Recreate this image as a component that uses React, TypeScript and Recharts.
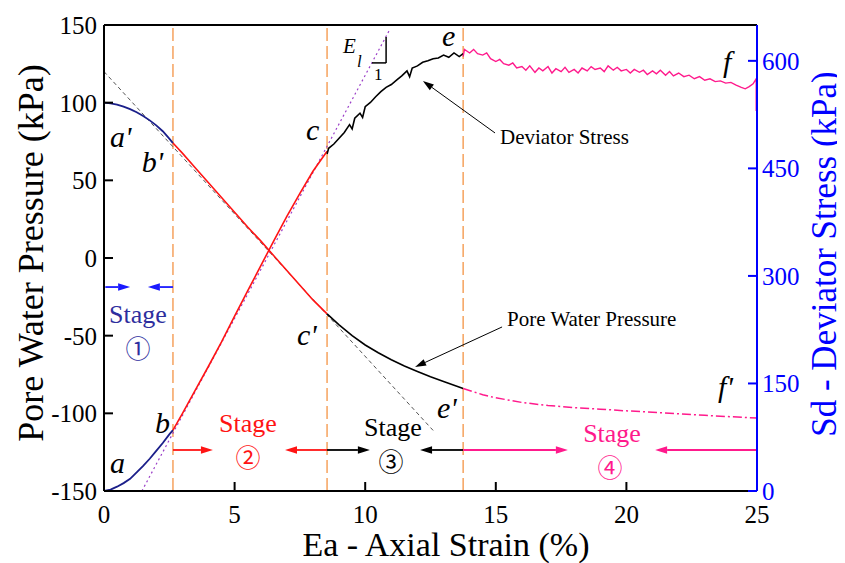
import React from 'react';
import { ComposedChart, Line, XAxis, YAxis, ReferenceLine, ReferenceDot } from 'recharts';

const SERIF = 'Liberation Serif, Times New Roman, serif';
const CIRCLE_FONT = 'Noto Sans CJK SC, DejaVu Sans, sans-serif';

const NAVY = '#1b1f8a';
const RED = '#ff1414';
const PINK = '#ff1a8c';
const BLUE = '#0000ff';
const ORANGE = '#f6a25e';

const strainTicks = [0, 5, 10, 15, 20, 25];
const pwpTicks = [-150, -100, -50, 0, 50, 100, 150];
const sdTicks = [0, 150, 300, 450, 600];

// stage boundaries (axial strain, %)
const stageBounds = [2.64, 8.54, 13.75];

// Stage 1: 0 -> b
const s1Strain = [0, 0.25, 0.5, 0.75, 1, 1.25, 1.5, 1.75, 2, 2.25, 2.5, 2.64];
const s1Pwp = [100, 99.6, 98.8, 97.5, 95.8, 93.8, 91.4, 88.6, 85.4, 81.6, 76.8, 74];
const s1Sd = [0, 2, 6, 11, 17, 26, 35, 45, 56, 67, 79, 85];

// Stage 2: b -> c
const s2Strain = [2.64, 3, 3.5, 4, 4.5, 5, 5.5, 6, 6.5, 7, 7.5, 8, 8.54];
const s2Pwp = [74, 67.5, 58, 48.5, 39, 29.5, 20, 11, 1.5, -8, -17.5, -27, -36];
const s2Sd = [85, 108, 141, 174, 208, 244, 279, 314, 349, 383, 415, 446, 474];

// Stage 3: c -> e
const s3Strain = [8.54, 9, 9.5, 10, 10.5, 11, 11.5, 12, 12.5, 13, 13.75];
const s3Pwp = [-36, -43, -50, -56, -61, -65.5, -69.5, -73, -76.5, -79.5, -84];
const s3SdStrain = [8.54, 8.6, 8.8, 9, 9.2, 9.4, 9.5, 9.6, 9.8, 9.9, 10, 10.2, 10.4, 10.6, 10.8, 11, 11.2, 11.4, 11.6, 11.7, 11.8, 12, 12.2, 12.4, 12.6, 12.8, 13, 13.2, 13.4, 13.6, 13.75];
const s3Sd = [470, 478, 484, 492, 500, 511, 505, 520, 527, 521, 536, 542, 550, 557, 563, 567, 573, 579, 586, 578, 590, 593, 598, 600, 603, 604, 608, 605, 611, 606, 610];

// Stage 4: e -> f
const s4Strain = [13.75, 14.5, 15, 16, 17, 18, 19, 20, 21, 22, 23, 24, 25];
const s4Pwp = [-84, -88, -90, -93, -95, -96.3, -97.3, -98.4, -99.3, -100.3, -101.3, -102.2, -103];
const s4SdStrain = [13.75, 13.8, 14, 14.15, 14.3, 14.5, 14.65, 14.8, 15, 15.15, 15.3, 15.5, 15.65, 15.8, 16, 16.15, 16.3, 16.5, 16.65, 16.8, 17, 17.15, 17.3, 17.5, 17.65, 17.8, 18, 18.15, 18.3, 18.5, 18.65, 18.8, 19, 19.15, 19.3, 19.5, 19.65, 19.8, 20, 20.15, 20.3, 20.5, 20.65, 20.8, 21, 21.15, 21.3, 21.5, 21.65, 21.8, 22, 22.2, 22.4, 22.6, 22.8, 23, 23.2, 23.4, 23.6, 23.8, 24, 24.2, 24.4, 24.55, 24.7, 24.85, 24.97, 24.97];
const s4Sd = [606, 616, 611, 616, 610, 608, 611, 603, 599, 602, 596, 594, 597, 590, 592, 587, 593, 584, 590, 586, 592, 583, 589, 585, 591, 584, 588, 583, 590, 586, 592, 588, 590, 585, 593, 587, 591, 586, 588, 583, 588, 584, 587, 581, 586, 582, 587, 580, 585, 579, 583, 578, 580, 575, 578, 573, 575, 571, 572, 569, 570, 566, 563, 561, 564, 568, 575, 530];

// tangent lines
const elasticStrain = [1.45, 10.96];
const elasticSd = [0, 645];
const pwpTanStrain = [0, 12.6];
const pwpTan = [120, -111];

const zip = (xs: number[], ys: number[]) => xs.map((x, i) => ({ x, y: ys[i] }));

function arrowShape(color: string, width: number, head: number, half: number) {
  return (props: any) => {
    const { x1, y1, x2, y2 } = props;
    const dx = x2 - x1;
    const dy = y2 - y1;
    const len = Math.hypot(dx, dy) || 1;
    const ux = dx / len;
    const uy = dy / len;
    const bx = x2 - ux * head;
    const by = y2 - uy * head;
    const pts = `${x2},${y2} ${bx - uy * half},${by + ux * half} ${bx + uy * half},${by - ux * half}`;
    return (
      <g>
        <line x1={x1} y1={y1} x2={bx} y2={by} stroke={color} strokeWidth={width} />
        <polygon points={pts} fill={color} />
      </g>
    );
  };
}

function textAt(label: string, size: number, color = '#000', anchor = 'start', italic = false, family = SERIF) {
  return (p: any) => (
    <text x={p.cx} y={p.cy} fontSize={size} fill={color} textAnchor={anchor} fontFamily={family} fontStyle={italic ? 'italic' : 'normal'}>
      {label}
    </text>
  );
}

const stageArrow = (color: string) => arrowShape(color, 1.8, 12, 3.8);
const pointer = arrowShape('#000', 1, 11, 3.5);

export default function App() {
  const tickStyle = { fontFamily: SERIF, fontSize: 25, fill: '#000' };
  return (
    <ComposedChart width={837} height={555} margin={{ top: 17, right: 0, bottom: 0, left: 0 }}>
      <XAxis
        type="number"
        dataKey="x"
        domain={[0, 25]}
        ticks={strainTicks}
        allowDataOverflow
        height={72}
        axisLine={{ stroke: '#000', strokeWidth: 2 }}
        tickLine={{ stroke: '#000', strokeWidth: 2 }}
        tickSize={-9}
        tickMargin={23}
        tick={tickStyle}
        label={{
          content: () => (
            <text x={438} y={548} textAnchor="middle" fontFamily={SERIF} fontSize={34} fill="#000">
              Ea - Axial Strain (%)
            </text>
          ),
        }}
      />
      <YAxis
        yAxisId="p"
        type="number"
        domain={[-150, 150]}
        ticks={pwpTicks}
        allowDataOverflow
        width={96}
        axisLine={{ stroke: '#000', strokeWidth: 2 }}
        tickLine={{ stroke: '#000', strokeWidth: 2 }}
        tickSize={-9}
        tickMargin={16}
        tick={tickStyle}
        label={{
          content: () => (
            <text x={35} y={245} textAnchor="middle" fontFamily={SERIF} fontSize={36} fill="#000" transform="rotate(-90 35 245)">
              Pore Water Pressure (kPa)
            </text>
          ),
        }}
      />
      <YAxis
        yAxisId="s"
        orientation="right"
        type="number"
        domain={[0, 650]}
        ticks={sdTicks}
        allowDataOverflow
        width={88}
        axisLine={{ stroke: BLUE, strokeWidth: 2 }}
        tickLine={{ stroke: BLUE, strokeWidth: 2 }}
        tickSize={-9}
        tickMargin={14}
        tick={{ ...tickStyle, fill: BLUE }}
        label={{
          content: () => (
            <text x={828} y={246} textAnchor="middle" fontFamily={SERIF} fontSize={35} fill={BLUE} transform="rotate(-90 828 246)">
              Sd - Deviator Stress (kPa)
            </text>
          ),
        }}
      />

      <ReferenceLine yAxisId="p" y={150} stroke="#000" strokeWidth={2} />
      {stageBounds.map((b) => (
        <ReferenceLine key={b} yAxisId="p" x={b} stroke={ORANGE} strokeWidth={1.5} strokeDasharray="13 5" />
      ))}

      <Line data={zip(pwpTanStrain, pwpTan)} yAxisId="p" dataKey="y" stroke="#555" strokeWidth={1} strokeDasharray="4 3" dot={false} isAnimationActive={false} />
      <Line data={zip(elasticStrain, elasticSd)} yAxisId="s" dataKey="y" stroke="#9b3fc8" strokeWidth={1.2} strokeDasharray="2 3" dot={false} isAnimationActive={false} />

      <Line data={zip(s1Strain, s1Pwp)} yAxisId="p" dataKey="y" stroke={NAVY} strokeWidth={1.8} dot={false} isAnimationActive={false} />
      <Line data={zip(s2Strain, s2Pwp)} yAxisId="p" dataKey="y" stroke={RED} strokeWidth={1.6} dot={false} isAnimationActive={false} />
      <Line data={zip(s3Strain, s3Pwp)} yAxisId="p" dataKey="y" stroke="#000" strokeWidth={1.6} dot={false} isAnimationActive={false} />
      <Line data={zip(s4Strain, s4Pwp)} yAxisId="p" dataKey="y" stroke={PINK} strokeWidth={1.5} strokeDasharray="9 3 2 3" dot={false} isAnimationActive={false} />

      <Line data={zip(s1Strain, s1Sd)} yAxisId="s" dataKey="y" stroke={NAVY} strokeWidth={1.8} dot={false} isAnimationActive={false} />
      <Line data={zip(s2Strain, s2Sd)} yAxisId="s" dataKey="y" stroke={RED} strokeWidth={1.6} dot={false} isAnimationActive={false} />
      <Line data={zip(s3SdStrain, s3Sd)} yAxisId="s" dataKey="y" stroke="#000" strokeWidth={1.6} dot={false} isAnimationActive={false} />
      <Line data={zip(s4SdStrain, s4Sd)} yAxisId="s" dataKey="y" stroke={PINK} strokeWidth={1.4} dot={false} isAnimationActive={false} />

      {/* stage arrows */}
      <ReferenceLine yAxisId="p" segment={[{ x: 0.05, y: -18.7 }, { x: 1.0, y: -18.7 }]} shape={stageArrow('#1a1aff')} />
      <ReferenceLine yAxisId="p" segment={[{ x: 2.64, y: -18.7 }, { x: 1.68, y: -18.7 }]} shape={stageArrow('#1a1aff')} />
      <ReferenceLine yAxisId="p" segment={[{ x: 2.64, y: -123.6 }, { x: 4.17, y: -123.6 }]} shape={stageArrow(RED)} />
      <ReferenceLine yAxisId="p" segment={[{ x: 8.54, y: -123.6 }, { x: 6.93, y: -123.6 }]} shape={stageArrow(RED)} />
      <ReferenceLine yAxisId="p" segment={[{ x: 8.54, y: -123.6 }, { x: 10.18, y: -123.6 }]} shape={stageArrow('#000')} />
      <ReferenceLine yAxisId="p" segment={[{ x: 13.75, y: -123.6 }, { x: 12.1, y: -123.6 }]} shape={stageArrow('#000')} />
      <ReferenceLine yAxisId="p" segment={[{ x: 13.75, y: -123.6 }, { x: 17.76, y: -123.6 }]} shape={stageArrow(PINK)} />
      <ReferenceLine yAxisId="p" segment={[{ x: 25, y: -123.6 }, { x: 21.1, y: -123.6 }]} shape={stageArrow(PINK)} />

      {/* annotation pointers */}
      <ReferenceLine yAxisId="p" segment={[{ x: 14.97, y: 80.5 }, { x: 12.21, y: 114 }]} shape={pointer} />
      <ReferenceLine yAxisId="p" segment={[{ x: 15.24, y: -44.4 }, { x: 11.91, y: -70.2 }]} shape={pointer} />

      {/* E_l slope mark */}
      <ReferenceLine yAxisId="p" segment={[{ x: 10.8, y: 142.3 }, { x: 10.8, y: 125.6 }]} stroke="#000" strokeWidth={1.5} />
      <ReferenceLine yAxisId="p" segment={[{ x: 10.26, y: 125.6 }, { x: 10.8, y: 125.6 }]} stroke="#000" strokeWidth={1.5} />

      {/* point labels */}
      <ReferenceDot yAxisId="p" x={0.23} y={71.5} r={0} shape={textAt("a'", 30, '#000', 'start', true)} />
      <ReferenceDot yAxisId="p" x={1.45} y={55.4} r={0} shape={textAt("b'", 30, '#000', 'start', true)} />
      <ReferenceDot yAxisId="p" x={0.23} y={-138.4} r={0} shape={textAt('a', 30, '#000', 'start', true)} />
      <ReferenceDot yAxisId="p" x={1.95} y={-112.7} r={0} shape={textAt('b', 30, '#000', 'start', true)} />
      <ReferenceDot yAxisId="p" x={7.73} y={76} r={0} shape={textAt('c', 30, '#000', 'start', true)} />
      <ReferenceDot yAxisId="p" x={7.39} y={-56} r={0} shape={textAt("c'", 30, '#000', 'start', true)} />
      <ReferenceDot yAxisId="p" x={12.94} y={136.5} r={0} shape={textAt('e', 30, '#000', 'start', true)} />
      <ReferenceDot yAxisId="p" x={12.75} y={-103} r={0} shape={textAt("e'", 30, '#000', 'start', true)} />
      <ReferenceDot yAxisId="p" x={23.7} y={119.8} r={0} shape={textAt('f', 30, '#000', 'start', true)} />
      <ReferenceDot yAxisId="p" x={23.51} y={-89.5} r={0} shape={textAt("f'", 30, '#000', 'start', true)} />
      <ReferenceDot yAxisId="p" x={9.15} y={132} r={0} shape={textAt('E', 21, '#000', 'start', true)} />
      <ReferenceDot yAxisId="p" x={9.69} y={123} r={0} shape={textAt('l', 17, '#000', 'start', true)} />
      <ReferenceDot yAxisId="p" x={10.34} y={114.6} r={0} shape={textAt('1', 17)} />

      <ReferenceDot yAxisId="p" x={15.16} y={73.4} r={0} shape={textAt('Deviator Stress', 21)} />
      <ReferenceDot yAxisId="p" x={15.43} y={-43.8} r={0} shape={textAt('Pore Water Pressure', 21)} />

      {/* stage labels */}
      <ReferenceDot yAxisId="p" x={1.3} y={-41.9} r={0} shape={textAt('Stage', 26, '#2e2e9e', 'middle')} />
      <ReferenceDot yAxisId="p" x={1.3} y={-64.5} r={0} shape={textAt('①', 25, '#2e2e9e', 'middle', false, CIRCLE_FONT)} />
      <ReferenceDot yAxisId="p" x={5.51} y={-112} r={0} shape={textAt('Stage', 26, RED, 'middle')} />
      <ReferenceDot yAxisId="p" x={5.51} y={-134.5} r={0} shape={textAt('②', 25, RED, 'middle', false, CIRCLE_FONT)} />
      <ReferenceDot yAxisId="p" x={11.06} y={-114.5} r={0} shape={textAt('Stage', 26, '#000', 'middle')} />
      <ReferenceDot yAxisId="p" x={10.99} y={-137} r={0} shape={textAt('③', 25, '#000', 'middle', false, CIRCLE_FONT)} />
      <ReferenceDot yAxisId="p" x={19.45} y={-118.5} r={0} shape={textAt('Stage', 26, PINK, 'middle')} />
      <ReferenceDot yAxisId="p" x={19.37} y={-141} r={0} shape={textAt('④', 25, PINK, 'middle', false, CIRCLE_FONT)} />
    </ComposedChart>
  );
}
